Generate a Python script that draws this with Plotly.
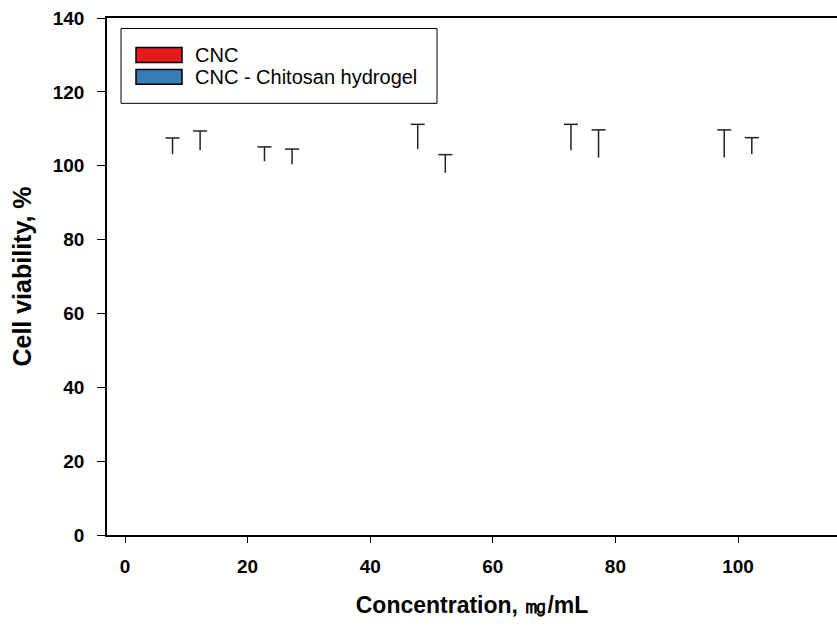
import plotly.graph_objects as go

concentrations = [10, 25, 50, 75, 100]
cnc_mean = [103.1, 101.2, 104.5, 104.2, 102.2]
cnc_err = [4.4, 3.9, 6.7, 7.0, 7.5]
hyd_mean = [104.2, 100.4, 98.1, 102.2, 103.1]
hyd_err = [5.2, 4.1, 4.9, 7.5, 4.5]
series_names = ["CNC", "CNC - Chitosan hydrogel"]
series_colors = ["#e41a1c", "#377eb8"]
x_ticks = [0, 20, 40, 60, 80, 100]
y_ticks = [0, 20, 40, 60, 80, 100, 120, 140]

W, H = 837, 628
L, R, T, B = 107, 0, 17.5, 92.5
pw, ph = W - L - R, H - T - B

fig = go.Figure()
bar_w = 4.5
err_color = "#222222"
for mean, err, off, name in [(cnc_mean, cnc_err, -bar_w, series_names[0]),
                             (hyd_mean, hyd_err, 0, series_names[1])]:
    # invisible bars (not drawn in the original), upper error stems only
    fig.add_trace(go.Bar(
        x=concentrations, y=mean, width=bar_w, offset=off, name=name,
        marker=dict(color="rgba(0,0,0,0)", line=dict(width=0)),
        error_y=dict(type="data", symmetric=False, array=err,
                     arrayminus=[0] * len(err), color=err_color,
                     thickness=1.5, width=0),
        showlegend=False, hoverinfo="skip",
    ))
    # caps on top of the error stems
    fig.add_trace(go.Scatter(
        x=[c + off + bar_w / 2 for c in concentrations],
        y=[m + e for m, e in zip(mean, err)],
        mode="markers",
        marker=dict(symbol="line-ew", size=10,
                    line=dict(color=err_color, width=1.5)),
        showlegend=False, hoverinfo="skip", cliponaxis=False,
    ))

def px(xp):
    return (xp - L) / pw

def py(yp):
    return (H - B - yp) / ph

shapes = [
    dict(type="rect", xref="paper", yref="paper", x0=px(121), x1=px(437),
         y0=py(103), y1=py(28), line=dict(color="black", width=1),
         fillcolor="white", layer="above"),
]
ann = []
rows = [(47, 62), (69, 84)]
for (top, bot), col, name in zip(rows, series_colors, series_names):
    shapes.append(dict(type="rect", xref="paper", yref="paper",
                       x0=px(136), x1=px(182), y0=py(bot), y1=py(top),
                       line=dict(color="black", width=1.5), fillcolor=col,
                       layer="above"))
    ann.append(dict(xref="paper", yref="paper", x=px(193), y=py((top + bot) / 2),
                    text=name, showarrow=False, xanchor="left", yanchor="middle",
                    font=dict(family="Liberation Sans", size=20, color="black")))

fig.update_layout(
    width=W, height=H,
    margin=dict(l=L, r=R, t=T, b=B, pad=0),
    paper_bgcolor="white", plot_bgcolor="white",
    barmode="overlay",
    shapes=shapes, annotations=ann,
    showlegend=False,
    xaxis=dict(
        range=[-2.94, 116.15], tickvals=x_ticks, ticks="outside", ticklen=6,
        tickwidth=1, tickcolor="black", showline=True, linecolor="black",
        linewidth=1.5, mirror=True, showgrid=False, zeroline=False,
        tickfont=dict(family="Liberation Sans", size=19, color="black", weight="bold"),
        ticklabelstandoff=7,
        title=dict(text="Concentration, ㎎/mL", standoff=21,
                   font=dict(family="Liberation Sans", size=23, color="black", weight="bold")),
    ),
    yaxis=dict(
        range=[0, 140], tickvals=y_ticks, ticks="outside", ticklen=8,
        tickwidth=1, tickcolor="black", showline=True, linecolor="black",
        linewidth=1.5, mirror=False, showgrid=False, zeroline=False,
        tickfont=dict(family="Liberation Sans", size=19, color="black", weight="bold"),
        ticklabelstandoff=9,
        title=dict(text="Cell viability, %", standoff=14,
                   font=dict(family="Liberation Sans", size=25, color="black", weight="bold")),
    ),
)

fig.write_html("out.html")
